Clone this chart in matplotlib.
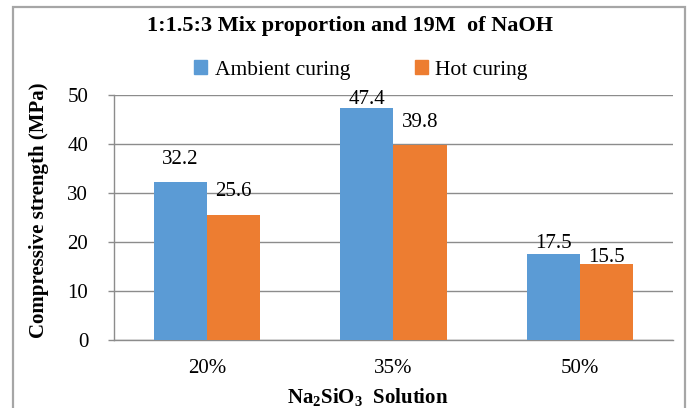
import numpy as np
import matplotlib.pyplot as plt
from matplotlib.patches import Rectangle, Patch

plt.rcParams["font.family"] = ["Liberation Serif", "DejaVu Serif"]
plt.rcParams["mathtext.fontset"] = "custom"
plt.rcParams["mathtext.rm"] = "Liberation Serif"
plt.rcParams["mathtext.bf"] = "Liberation Serif:bold"
plt.rcParams["mathtext.default"] = "bf"

categories = ["20%", "35%", "50%"]
ambient = [32.2, 47.4, 17.5]
hot = [25.6, 39.8, 15.5]
series_names = ["Ambient curing", "Hot curing"]
yticks = [0, 10, 20, 30, 40, 50]

# label lift above each bar top, in points
ambient_lift = [16, 6, 8]
hot_lift = [16.5, 16, 5]

blue = "#5B9BD5"
orange = "#ED7D31"
grid_col = "#8c8c8c"

W, H = 688, 408
fig = plt.figure(figsize=(W / 100, H / 100), dpi=100)
ax = fig.add_axes([114 / W, 1 - 340 / H, (673 - 114) / W, (340 - 95) / H])

x = np.arange(len(categories))
bw = 1 / 3.5
b1 = ax.bar(x - bw / 2, ambient, bw, color=blue, zorder=3)
b2 = ax.bar(x + bw / 2, hot, bw, color=orange, zorder=3)

for bars, vals, lifts in [(b1, ambient, ambient_lift), (b2, hot, hot_lift)]:
    for r, v, lift in zip(bars, vals, lifts):
        ax.annotate(f"{v}", (r.get_x() + r.get_width() / 2, v),
                    xytext=(0, lift), textcoords="offset points",
                    ha="center", va="center", fontsize=15, zorder=4)

ax.set_xlim(-0.5, 2.5)
ax.set_ylim(0, 50)
ax.set_yticks(yticks)
ax.set_xticks(x)
ax.set_xticklabels(categories)
ax.tick_params(axis="x", length=0, pad=14, labelsize=15)
ax.tick_params(axis="y", length=4.5, width=1, color=grid_col, pad=14, labelsize=15)
ax.yaxis.grid(True, color=grid_col, lw=1, zorder=0)
for s in ["top", "right"]:
    ax.spines[s].set_visible(False)
for s in ["left", "bottom"]:
    ax.spines[s].set_color(grid_col)
    ax.spines[s].set_linewidth(1)

ax.set_ylabel("Compressive strength (MPa)", fontsize=15, fontweight="bold")
ax.yaxis.set_label_coords(-(114 - 49) / (673 - 114), 0.53)

fig.text(368 / W, 1 - 397 / H, r"Na$_2$SiO$_3$  Solution", ha="center", va="center",
         fontsize=15, fontweight="bold")

fig.text(350 / W, 1 - 26 / H, "1:1.5:3 Mix proportion and 19M  of NaOH",
         ha="center", va="center", fontsize=16, fontweight="bold")

handles = [Patch(color=blue), Patch(color=orange)]
fig.legend(handles, series_names, loc="center", bbox_to_anchor=(361 / W, 1 - 70 / H),
           ncol=2, frameon=False, fontsize=15.5, handlelength=0.6, handleheight=0.6,
           handletextpad=0.35, columnspacing=3.0)

# chart frame
fig.patches.append(Rectangle((13 / W, -0.05), (685 - 13) / W, 1.05 - 7 / H,
                             transform=fig.transFigure, fill=False,
                             edgecolor="#a6a6a6", lw=1.6, clip_on=False))

fig.savefig("out.png", dpi=100)
